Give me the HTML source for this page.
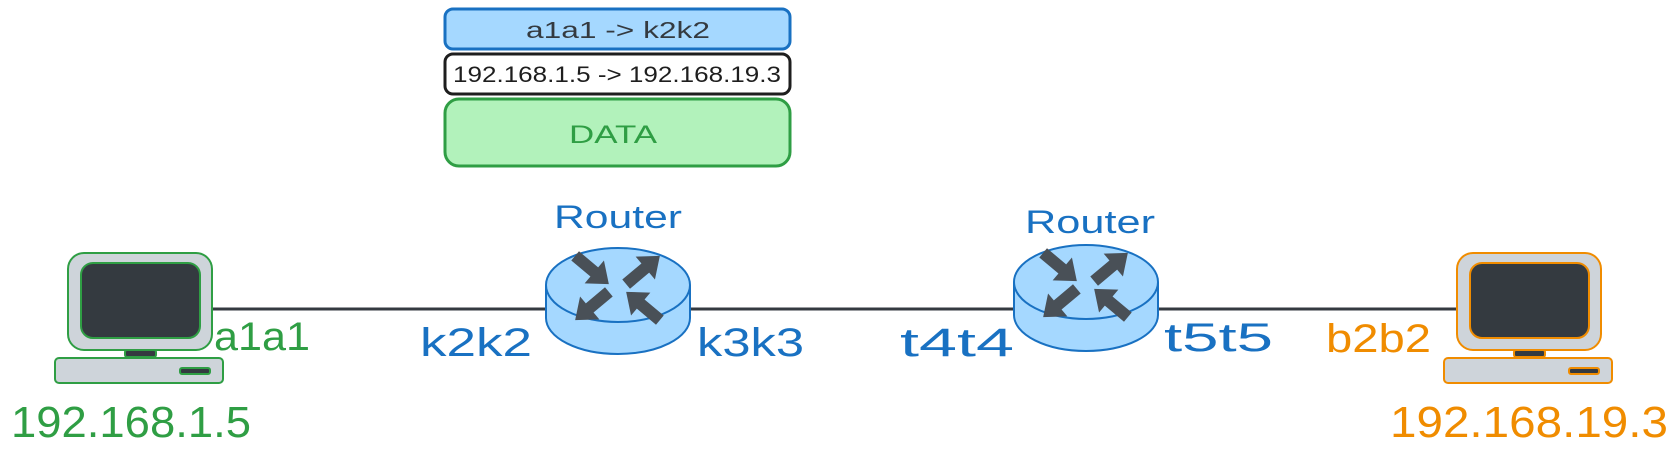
<!DOCTYPE html>
<html><head><meta charset="utf-8"><style>
html,body{margin:0;padding:0;background:#fff;width:1677px;height:463px;overflow:hidden}
svg text{font-family:"Liberation Sans",sans-serif}
</style></head><body>
<svg width="1677" height="463" viewBox="0 0 1677 463" xmlns="http://www.w3.org/2000/svg">
<defs>
<polygon id="ar" points="-22,-6 3,-6 3,-15 22,0 3,15 3,6 -22,6" fill="#495057"/>
</defs>
<rect x="445" y="9" width="345" height="40" rx="8" fill="#a5d8ff" stroke="#1971c2" stroke-width="3"/>
<text x="526" y="38" font-size="23" fill="#343a40" textLength="184" lengthAdjust="spacingAndGlyphs">a1a1 -&gt; k2k2</text>
<rect x="445" y="54" width="345" height="40" rx="8" fill="#fff" stroke="#1e1e1e" stroke-width="3"/>
<text x="453" y="82" font-size="22" fill="#1e1e1e" textLength="328" lengthAdjust="spacingAndGlyphs">192.168.1.5 -&gt; 192.168.19.3</text>
<rect x="445" y="99" width="345" height="67" rx="14" fill="#b2f2bb" stroke="#2f9e44" stroke-width="3"/>
<text x="569" y="143" font-size="25" fill="#2f9e44" textLength="88" lengthAdjust="spacingAndGlyphs">DATA</text>

<line x1="210" y1="309" x2="1457" y2="309" stroke="#343a40" stroke-width="3"/>

<g stroke="#2f9e44" stroke-width="2">
<rect x="68" y="253" width="144" height="97" rx="16" fill="#ced4da"/>
<rect x="81" y="263" width="119" height="75" rx="12" fill="#343a40"/>
<rect x="125" y="350" width="31" height="7" rx="2" fill="#343a40"/>
<rect x="55" y="358" width="168" height="25" rx="4" fill="#ced4da"/>
<rect x="180" y="368" width="30" height="6" rx="2" fill="#343a40"/>
</g>
<text x="214" y="350" font-size="40" fill="#2f9e44" textLength="96" lengthAdjust="spacingAndGlyphs">a1a1</text>
<text x="11" y="437" font-size="44" fill="#2f9e44" textLength="240" lengthAdjust="spacingAndGlyphs">192.168.1.5</text>

<g stroke="#f08c00" stroke-width="2">
<rect x="1457" y="253" width="144" height="97" rx="16" fill="#ced4da"/>
<rect x="1470" y="263" width="119" height="75" rx="12" fill="#343a40"/>
<rect x="1514" y="350" width="31" height="7" rx="2" fill="#343a40"/>
<rect x="1444" y="358" width="168" height="25" rx="4" fill="#ced4da"/>
<rect x="1569" y="368" width="30" height="6" rx="2" fill="#343a40"/>
</g>
<text x="1326" y="352" font-size="40" fill="#f08c00" textLength="105" lengthAdjust="spacingAndGlyphs">b2b2</text>
<text x="1390" y="437" font-size="44" fill="#f08c00" textLength="278" lengthAdjust="spacingAndGlyphs">192.168.19.3</text>

<g id="r1">
<path d="M546 285 L546 318 A72 36 0 0 0 690 318 L690 285" fill="#a5d8ff" stroke="#1971c2" stroke-width="2"/>
<ellipse cx="618" cy="285" rx="72" ry="37" fill="#a5d8ff" stroke="#1971c2" stroke-width="2"/>
<use href="#ar" transform="translate(592 270) rotate(40)"/>
<use href="#ar" transform="translate(643 270) rotate(-40)"/>
<use href="#ar" transform="translate(592 306) rotate(140)"/>
<use href="#ar" transform="translate(643 306) rotate(-140)"/>
</g>
<text x="554" y="228" font-size="32" fill="#1971c2" textLength="128" lengthAdjust="spacingAndGlyphs">Router</text>
<use href="#r1" transform="translate(468 -3)"/>
<text x="1025" y="233" font-size="32" fill="#1971c2" textLength="130" lengthAdjust="spacingAndGlyphs">Router</text>

<text x="420" y="356" font-size="40" fill="#1971c2" textLength="112" lengthAdjust="spacingAndGlyphs">k2k2</text>
<text x="697" y="356" font-size="40" fill="#1971c2" textLength="107" lengthAdjust="spacingAndGlyphs">k3k3</text>
<text x="900" y="356" font-size="40" fill="#1971c2" textLength="114" lengthAdjust="spacingAndGlyphs">t4t4</text>
<text x="1164" y="351" font-size="40" fill="#1971c2" textLength="109" lengthAdjust="spacingAndGlyphs">t5t5</text>
</svg>
</body></html>
